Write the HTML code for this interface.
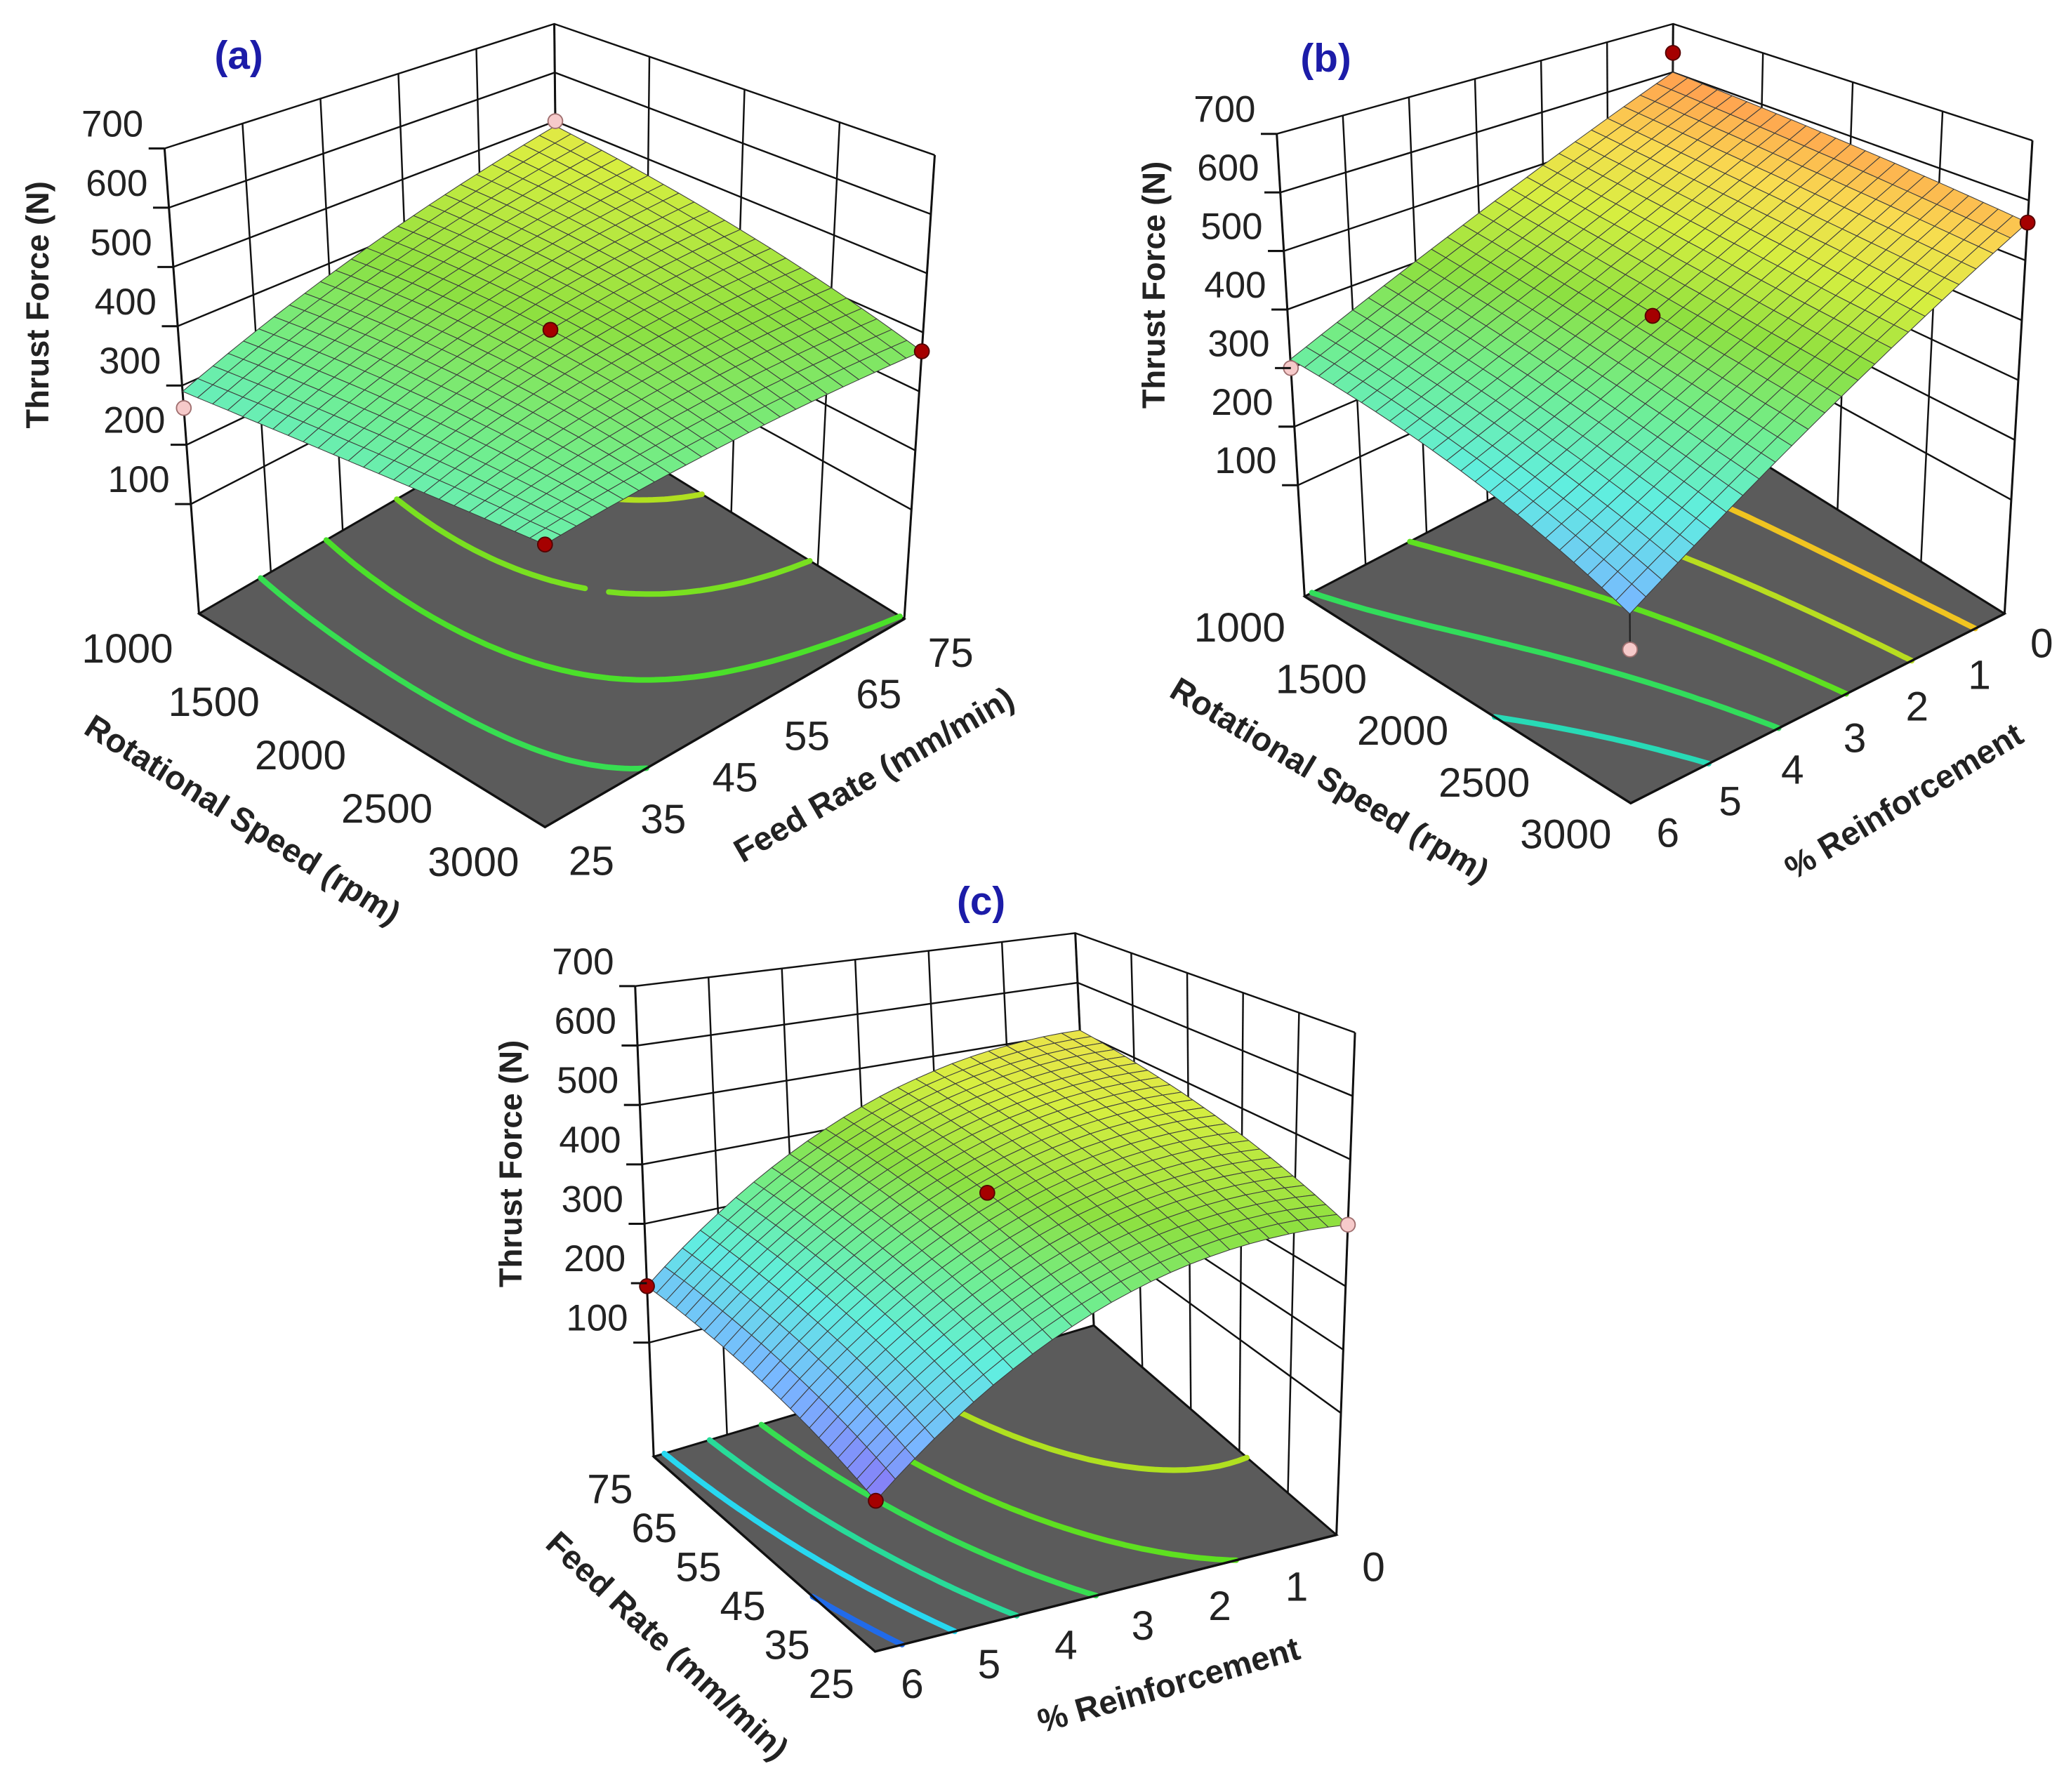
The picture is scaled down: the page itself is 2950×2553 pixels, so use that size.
<!DOCTYPE html>
<html><head><meta charset="utf-8"><style>
html,body{margin:0;padding:0;background:#fff;}
svg{display:block;font-family:"Liberation Sans",sans-serif;}
</style></head><body>
<svg id="fig" width="2950" height="2553" viewBox="0 0 1562 1352" xmlns="http://www.w3.org/2000/svg"></svg>
<script>
// ---------- data ----------
const zTicks = [100, 200, 300, 400, 500, 600, 700];
// panel (a): rows = rotational speed 1000,2000,3000 ; cols = feed 25,50,75
const aGrid = [[290, 400, 490], [300, 394, 440], [306, 345, 368]];
const aSLabels = ['1000', '1500', '2000', '2500', '3000'];
const aTLabels = ['25', '35', '45', '55', '65', '75'];
const aLevels = [330, 370, 410, 450];
const aDotS = [0.5, 1, 1, 0, 0];
const aDotT = [0.5, 0, 1, 0, 1];
const aDotZ = [394, 306, 368, 262, 500];
const aDotPink = [0, 0, 0, 1, 1];
// panel (b): rows = rotational speed 1000,2000,3000 ; cols = reinforcement 6,3,0
const bGrid = [[315, 449, 600], [262, 400, 585], [175, 360, 563]];
const bSLabels = ['1000', '1500', '2000', '2500', '3000'];
const bTLabels = ['6', '5', '4', '3', '2', '1', '0'];
const bLevels = [250, 320, 390, 460, 530];
const bDotS = [0.5, 0, 1, 0, 1];
const bDotT = [0.5, 1, 1, 0, 0];
const bDotZ = [395, 640, 563, 300, 125];
const bDotPink = [0, 0, 0, 1, 1];
// panel (c): rows = feed 75,50,25 ; cols = reinforcement 6,3,0
const cGrid = [[195, 430, 504], [170, 397, 465], [116, 336, 397]];
const cSLabels = ['75', '65', '55', '45', '35', '25'];
const cTLabels = ['6', '5', '4', '3', '2', '1', '0'];
const cLevels = [150, 210, 270, 330, 390, 450];
const cDotS = [0.5, 0, 1, 1];
const cDotT = [0.5, 0, 0, 1];
const cDotZ = [397, 195, 116, 397];
const cDotPink = [0, 0, 0, 1];

// ---------- styling / geometry ----------
const NS = 'http://www.w3.org/2000/svg';
const svg = document.getElementById('fig');
function mk(tag, attrs, parent) {
  const e = document.createElementNS(NS, tag);
  for (const k in attrs) e.setAttribute(k, attrs[k]);
  (parent || svg).appendChild(e);
  return e;
}
const surfStops = [[110,[138,108,245]],[180,[120,184,255]],[260,[96,238,224]],[330,[112,238,144]],[400,[142,224,64]],[470,[214,238,64]],[530,[248,220,80]],[590,[255,165,80]]];
const lineStops = [[130,[30,70,230]],[210,[40,216,240]],[300,[40,220,110]],[380,[80,224,32]],[450,[176,224,32]],[530,[240,196,32]]];
function cmap(stops, z) {
  if (z <= stops[0][0]) return 'rgb(' + stops[0][1].join(',') + ')';
  for (let i = 1; i < stops.length; i++) {
    if (z <= stops[i][0]) {
      const f = (z - stops[i-1][0]) / (stops[i][0] - stops[i-1][0]);
      const c = stops[i-1][1].map((v, k) => Math.round(v + f * (stops[i][1][k] - v)));
      return 'rgb(' + c.join(',') + ')';
    }
  }
  return 'rgb(' + stops[stops.length-1][1].join(',') + ')';
}
function lag(x, a, b, c) {
  return a * (2*x-1)*(x-1) + b * (-4*x*(x-1)) + c * x*(2*x-1);
}
function zAt(g, s, t) {
  const r = g.map(row => lag(t, row[0], row[1], row[2]));
  return lag(s, r[0], r[1], r[2]);
}

const panels = [
  {id:'a', grid:aGrid, sL:aSLabels, tL:aTLabels, lv:aLevels, dS:aDotS, dT:aDotT, dZ:aDotZ, dP:aDotPink, zf:-85,
   floor:[[150,463],[411,624],[682,467],[421,306]], top:[[124,112],[411,196],[705,117],[418,18]],
   sOff:[-54,27], tOff:[35,26], sTitle:'Rotational Speed (rpm)', sTitlePos:[182,620,32], tTitle:'Feed Rate (mm/min)', tTitlePos:[660,586,-30],
   zTitle:[30,230], tag:[180,42], stems:false},
  {id:'b', grid:bGrid, sL:bSLabels, tL:bTLabels, lv:bLevels, dS:bDotS, dT:bDotT, dZ:bDotZ, dP:bDotPink, zf:-90,
   floor:[[984,450],[1230,606],[1512,463],[1260,306]], top:[[963,101],[1228,180],[1533,106],[1262,18]],
   sOff:[-49,24], tOff:[28,23], sTitle:'Rotational Speed (rpm)', sTitlePos:[1002,590,31], tTitle:'% Reinforcement', tTitlePos:[1437,606,-31],
   zTitle:[872,215], tag:[1000,44], stems:true},
  {id:'c', grid:cGrid, sL:cSLabels, tL:cTLabels, lv:cLevels, dS:cDotS, dT:cDotT, dZ:cDotZ, dP:cDotPink, zf:-92,
   floor:[[493,1099],[660,1246],[1008,1158],[825,1000]], top:[[479,744],[662,813],[1022,779],[811,704]],
   sOff:[-33,25], tOff:[28,25], sTitle:'Feed Rate (mm/min)', sTitlePos:[502,1243,43], tTitle:'% Reinforcement', tTitlePos:[882,1273,-16],
   zTitle:[387,878], tag:[740,680], stems:false}
];
function bil(c, s, t) {
  return [
    (1-s)*(1-t)*c[0][0] + s*(1-t)*c[1][0] + s*t*c[2][0] + (1-s)*t*c[3][0],
    (1-s)*(1-t)*c[0][1] + s*(1-t)*c[1][1] + s*t*c[2][1] + (1-s)*t*c[3][1]
  ];
}
function proj(P, s, t, z) {
  const w = (z - P.zf) / (700 - P.zf);
  const a = bil(P.floor, s, t), b = bil(P.top, s, t);
  return [a[0] + w*(b[0]-a[0]), a[1] + w*(b[1]-a[1])];
}
function pts(arr) { return arr.map(p => p[0].toFixed(1) + ',' + p[1].toFixed(1)).join(' '); }

panels.forEach(P => {
  const g = mk('g', {});
  
  

  const walls = mk('g', {stroke:'#111', 'stroke-width':1.3, fill:'none'}, g);
  
  
  zTicks.forEach(z => {
    const l = mk('polyline', {points: pts([proj(P,0,0,z), proj(P,0,1,z), proj(P,1,1,z)])}, walls);
    
    
  });
  const nt = P.tL.length - 1, ns = P.sL.length - 1;
  for (let i = 0; i <= nt; i++) {
    const l = mk('line', {}, walls);
    const p1 = proj(P,0,i/nt,P.zf), p2 = proj(P,0,i/nt,700);
    l.setAttribute('x1',p1[0]); l.setAttribute('y1',p1[1]); l.setAttribute('x2',p2[0]); l.setAttribute('y2',p2[1]);
    
    
  }
  for (let i = 0; i <= ns; i++) {
    const l = mk('line', {}, walls);
    const p1 = proj(P,i/ns,1,P.zf), p2 = proj(P,i/ns,1,700);
    l.setAttribute('x1',p1[0]); l.setAttribute('y1',p1[1]); l.setAttribute('x2',p2[0]); l.setAttribute('y2',p2[1]);
    
    
  }
  [[0,0],[0,1],[1,1]].forEach(c => {
    const l = mk('line', {stroke:'#111', 'stroke-width':1.6}, g);
    const p1 = proj(P,c[0],c[1],P.zf), p2 = proj(P,c[0],c[1],700);
    l.setAttribute('x1',p1[0]); l.setAttribute('y1',p1[1]); l.setAttribute('x2',p2[0]); l.setAttribute('y2',p2[1]);
    
    
  });

  const fl = mk('polygon', {points: pts(P.floor), fill:'#5b5b5b', stroke:'#111', 'stroke-width':1.6}, g);
  
  

  const N = 48;
  const cg = mk('g', {fill:'none', 'stroke-width':4.2, 'stroke-linecap':'round'}, g);
  
  
  P.lv.forEach(L => {
    let d = '';
    for (let i = 0; i < N; i++) for (let j = 0; j < N; j++) {
      const s0 = i/N, s1 = (i+1)/N, t0 = j/N, t1 = (j+1)/N;
      const cs = [[s0,t0],[s1,t0],[s1,t1],[s0,t1]];
      const v = cs.map(c => zAt(P.grid, c[0], c[1]));
      const hits = [];
      for (let k = 0; k < 4; k++) {
        const a = v[k], b = v[(k+1)%4];
        if ((a - L) * (b - L) < 0) {
          const f = (L - a) / (b - a);
          const A = cs[k], B = cs[(k+1)%4];
          hits.push(bil(P.floor, A[0] + f*(B[0]-A[0]), A[1] + f*(B[1]-A[1])));
        }
      }
      if (hits.length >= 2) d += 'M' + hits[0][0].toFixed(1) + ',' + hits[0][1].toFixed(1) + 'L' + hits[1][0].toFixed(1) + ',' + hits[1][1].toFixed(1);
      if (hits.length === 4) d += 'M' + hits[2][0].toFixed(1) + ',' + hits[2][1].toFixed(1) + 'L' + hits[3][0].toFixed(1) + ',' + hits[3][1].toFixed(1);
    }
    const p = mk('path', {d: d, stroke: cmap(lineStops, L)}, cg);
    
    
  });

  const fe = mk('polyline', {points: pts([P.floor[0], P.floor[1], P.floor[2]]), fill:'none', stroke:'#111', 'stroke-width':1.8}, g);
  
  

  const M = 24;
  const quads = [];
  for (let i = 0; i < M; i++) for (let j = 0; j < M; j++) {
    const s0 = i/M, s1 = (i+1)/M, t0 = j/M, t1 = (j+1)/M;
    const c = [[s0,t0],[s1,t0],[s1,t1],[s0,t1]];
    const zs = c.map(q => zAt(P.grid, q[0], q[1]));
    const zm = zAt(P.grid, (s0+s1)/2, (t0+t1)/2);
    quads.push({key: (s0+s1)/2 + (1 - (t0+t1)/2), p: c.map((q,k) => proj(P, q[0], q[1], zs[k])), z: zm});
  }
  quads.sort((a, b) => a.key - b.key);
  const sg = mk('g', {stroke:'#3c3c3c', 'stroke-width':0.55, 'stroke-linejoin':'round'}, g);
  
  
  quads.forEach(q => {
    const pl = mk('polygon', {points: pts(q.p), fill: cmap(surfStops, q.z)}, sg);
    
    
  });

  P.dS.forEach((s, k) => {
    const p = proj(P, s, P.dT[k], P.dZ[k]);
    if (P.stems) {
      const q = proj(P, s, P.dT[k], zAt(P.grid, s, P.dT[k]));
      const st = mk('line', {x1:p[0], y1:p[1], x2:q[0], y2:q[1], stroke:'#222', 'stroke-width':1.2}, g);
      
      
    }
    const c = mk('circle', {cx:p[0], cy:p[1], r:5.5, fill: P.dP[k] ? '#f6caca' : '#a50000', stroke: P.dP[k] ? '#a07070' : '#500', 'stroke-width':1}, g);
    
    
  });

  zTicks.forEach(z => {
    const p = proj(P, 0, 0, z);
    const tk = mk('line', {x1:p[0]-12, y1:p[1], x2:p[0], y2:p[1], stroke:'#111', 'stroke-width':1.6}, g);
    
    
    const tx = mk('text', {x:p[0]-16, y:p[1]-9, 'text-anchor':'end', 'font-size':28, fill:'#222'}, g);
    tx.textContent = String(z);
    
    
  });
  const zt = mk('text', {x:0, y:0, transform:'translate(' + P.zTitle[0] + ',' + P.zTitle[1] + ') rotate(-90)', 'text-anchor':'middle', 'dominant-baseline':'middle', 'font-size':24, 'font-weight':'bold', fill:'#222'}, g);
  zt.textContent = 'Thrust Force (N)';
  
  

  P.sL.forEach((lab, i) => {
    const p = bil(P.floor, i/(P.sL.length-1), 0);
    const tx = mk('text', {x:p[0]+P.sOff[0], y:p[1]+P.sOff[1]+10, 'text-anchor':'middle', 'font-size':31, fill:'#222'}, g);
    tx.textContent = lab;
    
    
  });
  P.tL.forEach((lab, i) => {
    const p = bil(P.floor, 1, i/(P.tL.length-1));
    const tx = mk('text', {x:p[0]+P.tOff[0], y:p[1]+P.tOff[1]+10, 'text-anchor':'middle', 'font-size':31, fill:'#222'}, g);
    tx.textContent = lab;
    
    
  });
  const st = mk('text', {x:0, y:0, transform:'translate(' + P.sTitlePos[0] + ',' + P.sTitlePos[1] + ') rotate(' + P.sTitlePos[2] + ')', 'text-anchor':'middle', 'dominant-baseline':'middle', 'font-size':25, 'font-weight':'bold', fill:'#222'}, g);
  st.textContent = P.sTitle;
  
  
  const tt = mk('text', {x:0, y:0, transform:'translate(' + P.tTitlePos[0] + ',' + P.tTitlePos[1] + ') rotate(' + P.tTitlePos[2] + ')', 'text-anchor':'middle', 'dominant-baseline':'middle', 'font-size':25, 'font-weight':'bold', fill:'#222'}, g);
  tt.textContent = P.tTitle;
  
  
  const tg = mk('text', {x:P.tag[0], y:P.tag[1]+10, 'text-anchor':'middle', 'font-size':30, 'font-weight':'bold', fill:'#1c1ca8'}, g);
  tg.textContent = '(' + P.id + ')';
  
  
});
</script>
</body></html>
